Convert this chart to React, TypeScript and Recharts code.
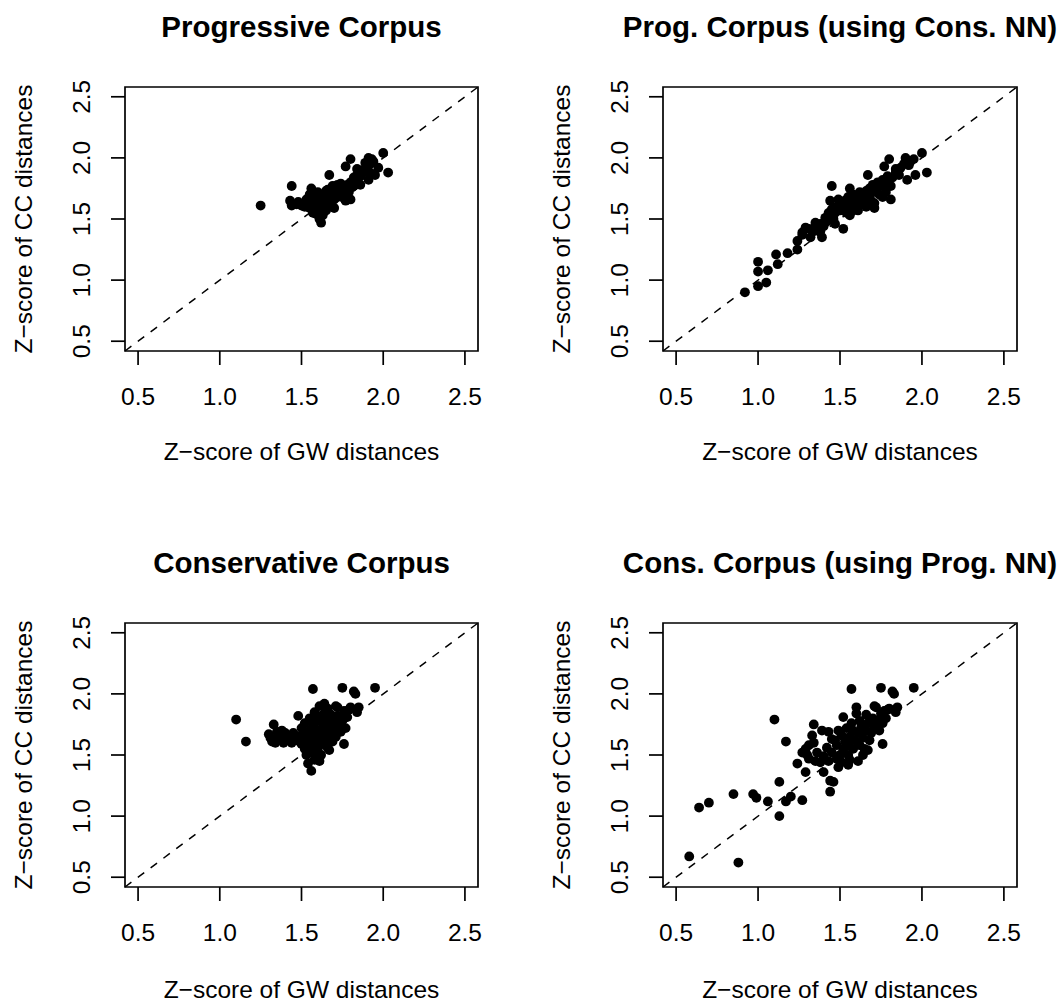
import { ReferenceArea, ReferenceLine, Scatter, ScatterChart, XAxis, YAxis } from "recharts";

const AXIS_RANGE = [0.42, 2.58];
const TICKS = [0.5, 1.0, 1.5, 2.0, 2.5];
const FONT = "'Liberation Sans', Arial, Helvetica, sans-serif";

const progGW = [
  1.25, 1.44, 1.43, 1.44, 1.47, 1.5, 1.52, 1.56, 1.62, 1.67, 1.7, 1.77, 1.8, 1.84, 1.8, 1.77, 1.91, 1.94, 2.0, 2.03,
  1.95, 1.91, 1.82, 1.72, 1.65, 1.59, 1.58, 1.61, 1.55, 1.57, 1.6, 1.62, 1.64, 1.66, 1.68, 1.7, 1.56, 1.58, 1.6, 1.62,
  1.64, 1.66, 1.68, 1.55, 1.57, 1.6, 1.63, 1.61, 1.53, 1.54, 1.59, 1.63, 1.67, 1.65, 1.72, 1.74, 1.76, 1.78, 1.8, 1.83,
  1.86, 1.88, 1.9, 1.92, 1.93, 1.85, 1.79, 1.75, 1.71, 1.69, 1.73, 1.76, 1.78, 1.81, 1.84, 1.87, 1.82, 1.89, 1.58, 1.61,
  1.65, 1.7, 1.52, 1.48, 1.57, 1.66, 1.92, 1.97, 1.86, 1.74,
];
const progCC = [
  1.61, 1.77, 1.65, 1.61, 1.62, 1.61, 1.63, 1.75, 1.47, 1.86, 1.59, 1.93, 1.99, 1.91, 1.66, 1.65, 2.0, 1.97, 2.04, 1.88,
  1.86, 1.82, 1.77, 1.78, 1.73, 1.54, 1.58, 1.65, 1.7, 1.68, 1.72, 1.7, 1.66, 1.68, 1.7, 1.72, 1.64, 1.62, 1.6, 1.58,
  1.62, 1.62, 1.64, 1.59, 1.55, 1.56, 1.53, 1.5, 1.66, 1.62, 1.67, 1.64, 1.6, 1.57, 1.68, 1.74, 1.76, 1.78, 1.8, 1.82,
  1.85, 1.88, 1.93, 1.95, 1.99, 1.79, 1.72, 1.7, 1.75, 1.77, 1.71, 1.67, 1.74, 1.76, 1.86, 1.9, 1.84, 1.96, 1.71, 1.62,
  1.69, 1.66, 1.6, 1.64, 1.6, 1.74, 1.88, 1.92, 1.78, 1.79,
];

const progNnGW = [
  0.92, 1.0, 1.05, 1.0, 1.0, 1.06, 1.12, 1.11, 1.18, 1.24, 1.24, 1.27, 1.29, 1.32, 1.36, 1.39, 1.41, 1.44, 1.45, 1.52,
  1.56, 1.67, 1.71, 1.8, 1.77, 1.84, 1.81, 1.9, 1.93, 2.0, 2.03, 1.96, 1.91, 1.81, 1.31, 1.34, 1.38, 1.4, 1.42, 1.44,
  1.46, 1.43, 1.45, 1.47, 1.48, 1.5, 1.5, 1.52, 1.53, 1.55, 1.55, 1.57, 1.58, 1.59, 1.6, 1.61, 1.62, 1.63, 1.64, 1.65,
  1.66, 1.67, 1.68, 1.69, 1.7, 1.72, 1.73, 1.75, 1.76, 1.78, 1.79, 1.82, 1.84, 1.86, 1.87, 1.89, 1.92, 1.95, 1.49, 1.54,
  1.58, 1.62, 1.66, 1.69, 1.74, 1.78, 1.38, 1.27, 1.35, 1.56, 1.47, 1.61, 1.76, 1.71,
];
const progNnCC = [
  0.9, 0.95, 0.98, 1.07, 1.15, 1.08, 1.13, 1.21, 1.22, 1.25, 1.32, 1.37, 1.43, 1.35, 1.45, 1.35, 1.51, 1.65, 1.77, 1.42,
  1.75, 1.86, 1.59, 1.99, 1.93, 1.91, 1.66, 2.0, 1.97, 2.04, 1.88, 1.86, 1.82, 1.77, 1.42, 1.4, 1.46, 1.44, 1.48, 1.52,
  1.5, 1.55, 1.58, 1.55, 1.6, 1.57, 1.62, 1.59, 1.65, 1.61, 1.68, 1.63, 1.7, 1.66, 1.6, 1.68, 1.72, 1.64, 1.7, 1.66,
  1.73, 1.69, 1.75, 1.71, 1.78, 1.74, 1.8, 1.77, 1.82, 1.79, 1.85, 1.84, 1.88, 1.86, 1.92, 1.95, 1.94, 1.99, 1.66, 1.55,
  1.57, 1.62, 1.6, 1.65, 1.7, 1.72, 1.4, 1.39, 1.47, 1.53, 1.46, 1.57, 1.68, 1.63,
];

const consGW = [
  1.1, 1.16, 1.33, 1.57, 1.75, 1.82, 1.83, 1.95, 1.85, 1.84, 1.71, 1.79, 1.76, 1.61, 1.56, 1.54, 1.67, 1.3, 1.31, 1.32,
  1.34, 1.36, 1.37, 1.38, 1.4, 1.41, 1.42, 1.44, 1.45, 1.47, 1.48, 1.5, 1.35, 1.39, 1.48, 1.5, 1.51, 1.52, 1.52, 1.53,
  1.54, 1.55, 1.55, 1.56, 1.56, 1.57, 1.57, 1.58, 1.58, 1.59, 1.6, 1.6, 1.61, 1.61, 1.62, 1.62, 1.63, 1.63, 1.64, 1.64,
  1.65, 1.66, 1.66, 1.67, 1.68, 1.68, 1.69, 1.7, 1.7, 1.71, 1.72, 1.73, 1.74, 1.75, 1.76, 1.77, 1.78, 1.8, 1.64, 1.59,
  1.54, 1.58, 1.62, 1.66, 1.53, 1.5, 1.57, 1.6, 1.65, 1.72, 1.74, 1.63,
];
const consCC = [
  1.79, 1.61, 1.75, 2.04, 2.05, 2.02, 2.0, 2.05, 1.89, 1.85, 1.9, 1.87, 1.59, 1.45, 1.37, 1.43, 1.54, 1.67, 1.64, 1.61,
  1.6, 1.63, 1.66, 1.7, 1.68, 1.62, 1.65, 1.6, 1.68, 1.62, 1.65, 1.59, 1.69, 1.6, 1.82, 1.72, 1.66, 1.55, 1.76, 1.5,
  1.62, 1.7, 1.8, 1.58, 1.52, 1.66, 1.75, 1.85, 1.46, 1.62, 1.7, 1.55, 1.78, 1.9, 1.66, 1.5, 1.73, 1.59, 1.84, 1.69,
  1.63, 1.78, 1.56, 1.72, 1.67, 1.83, 1.61, 1.76, 1.7, 1.65, 1.82, 1.75, 1.69, 1.78, 1.86, 1.72, 1.81, 1.89, 1.92, 1.8,
  1.68, 1.72, 1.82, 1.88, 1.58, 1.63, 1.53, 1.49, 1.74, 1.89, 1.8, 1.78,
];

const consNnGW = [
  0.58, 0.88, 0.64, 0.7, 0.85, 0.97, 0.99, 1.06, 1.13, 1.17, 1.2, 1.27, 1.13, 1.1, 1.17, 1.44, 1.44, 1.46, 1.24, 1.29,
  1.4, 1.49, 1.55, 1.61, 1.76, 1.27, 1.29, 1.31, 1.3, 1.34, 1.33, 1.34, 1.31, 1.35, 1.38, 1.4, 1.36, 1.42, 1.39, 1.43,
  1.45, 1.47, 1.43, 1.45, 1.48, 1.49, 1.5, 1.51, 1.52, 1.52, 1.53, 1.54, 1.55, 1.55, 1.56, 1.57, 1.58, 1.58, 1.59, 1.6,
  1.6, 1.61, 1.62, 1.62, 1.63, 1.64, 1.65, 1.66, 1.66, 1.67, 1.68, 1.69, 1.7, 1.71, 1.72, 1.73, 1.74, 1.75, 1.76, 1.77,
  1.78, 1.8, 1.57, 1.75, 1.82, 1.83, 1.95, 1.85, 1.84, 1.71, 1.79, 1.67, 1.64, 1.56, 1.51, 1.48,
];
const consNnCC = [
  0.67, 0.62, 1.07, 1.11, 1.18, 1.18, 1.15, 1.12, 1.0, 1.12, 1.16, 1.13, 1.28, 1.79, 1.61, 1.2, 1.29, 1.28, 1.43, 1.36,
  1.36, 1.4, 1.42, 1.45, 1.59, 1.52, 1.55, 1.58, 1.5, 1.6, 1.66, 1.75, 1.47, 1.45, 1.44, 1.49, 1.52, 1.56, 1.7, 1.69,
  1.63, 1.62, 1.45, 1.52, 1.58, 1.7, 1.5, 1.66, 1.55, 1.81, 1.61, 1.72, 1.58, 1.5, 1.65, 1.76, 1.55, 1.7, 1.62, 1.89,
  1.84, 1.68, 1.58, 1.78, 1.73, 1.64, 1.55, 1.83, 1.7, 1.76, 1.62, 1.68, 1.8, 1.73, 1.89, 1.78, 1.7, 1.84, 1.76, 1.86,
  1.8, 1.88, 2.04, 2.05, 2.02, 2.0, 2.05, 1.89, 1.85, 1.9, 1.87, 1.54, 1.5, 1.46, 1.44, 1.47,
];

const toPoints = (gw: number[], cc: number[]) => gw.map((x, i) => ({ x, y: cc[i] }));

type PanelProps = {
  title: string;
  gw: number[];
  cc: number[];
  left: number;
  top: number;
  plotL: number;
  plotR: number;
  plotT: number;
  plotB: number;
  xTitleOff: number;
};

const W = 530;
const H = 502;

const Panel = ({ title, gw, cc, left, top, plotL, plotR, plotT, plotB, xTitleOff }: PanelProps) => {
  const data = toPoints(gw, cc);
  const cx = (plotL + plotR) / 2;
  const cy = (plotT + plotB) / 2;
  return (
    <div style={{ position: "absolute", left, top, width: W, height: H }}>
      <ScatterChart
        width={W}
        height={H}
        margin={{ top: plotT, left: plotL - 40, right: W - plotR, bottom: H - plotB - 40 }}
        style={{ fontFamily: FONT }}
      >
        <XAxis
          type="number"
          dataKey="x"
          domain={AXIS_RANGE}
          allowDataOverflow
          ticks={TICKS}
          height={40}
          axisLine={false}
          tickSize={14}
          tickLine={{ stroke: "#000", strokeWidth: 1.7 }}
          tick={(p: any) => (
            <text x={p.x} y={plotB + 54} textAnchor="middle" fontSize={24.5} fill="#000" fontFamily={FONT}>
              {Number(p.payload.value).toFixed(1)}
            </text>
          )}
        />
        <YAxis
          type="number"
          dataKey="y"
          domain={AXIS_RANGE}
          allowDataOverflow
          ticks={TICKS}
          width={40}
          axisLine={false}
          tickSize={14}
          tickLine={{ stroke: "#000", strokeWidth: 1.7 }}
          tick={(p: any) => (
            <text
              transform={`translate(${plotL - 35},${p.y}) rotate(-90)`}
              textAnchor="middle"
              fontSize={24.5}
              fill="#000"
              fontFamily={FONT}
            >
              {Number(p.payload.value).toFixed(1)}
            </text>
          )}
        />
        <Scatter
          data={data}
          isAnimationActive={false}
          shape={(p: any) => <circle cx={p.cx} cy={p.cy} r={4.9} fill="#000" />}
        />
        <ReferenceLine
          segment={[
            { x: AXIS_RANGE[0], y: AXIS_RANGE[0] },
            { x: AXIS_RANGE[1], y: AXIS_RANGE[1] },
          ]}
          stroke="#000"
          strokeWidth={1.5}
          strokeDasharray="8 8"
        />
        <ReferenceArea
          x1={AXIS_RANGE[0]}
          x2={AXIS_RANGE[1]}
          y1={AXIS_RANGE[0]}
          y2={AXIS_RANGE[1]}
          fill="none"
          fillOpacity={0}
          stroke="#000"
          strokeWidth={1.7}
        />
        <text x={cx} y={plotT - 50} textAnchor="middle" fontSize={29.5} fontWeight="bold" fill="#000" fontFamily={FONT}>
          {title}
        </text>
        <text x={cx} y={plotB + xTitleOff} textAnchor="middle" fontSize={24.5} fill="#000" fontFamily={FONT}>
          Z−score of GW distances
        </text>
        <text
          transform={`translate(${plotL - 93},${cy}) rotate(-90)`}
          textAnchor="middle"
          fontSize={24.5}
          fill="#000"
          fontFamily={FONT}
        >
          Z−score of CC distances
        </text>
      </ScatterChart>
    </div>
  );
};

export default function App() {
  return (
    <div style={{ position: "absolute", left: 0, top: 0, width: 1060, height: 1004, background: "#fff" }}>
      <Panel title="Progressive Corpus" gw={progGW} cc={progCC} left={0} top={0}
        plotL={125} plotR={478} plotT={87} plotB={351} xTitleOff={109} />
      <Panel title="Prog. Corpus (using Cons. NN)" gw={progNnGW} cc={progNnCC} left={530} top={0}
        plotL={133} plotR={487} plotT={87} plotB={351} xTitleOff={109} />
      <Panel title="Conservative Corpus" gw={consGW} cc={consCC} left={0} top={502}
        plotL={125} plotR={478} plotT={121} plotB={385} xTitleOff={111} />
      <Panel title="Cons. Corpus (using Prog. NN)" gw={consNnGW} cc={consNnCC} left={530} top={502}
        plotL={133} plotR={487} plotT={121} plotB={385} xTitleOff={111} />
    </div>
  );
}
